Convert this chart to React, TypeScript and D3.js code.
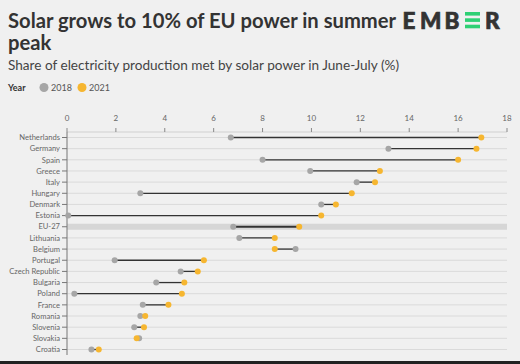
import React from 'react';
import * as d3 from 'd3';

const countries = ['Netherlands', 'Germany', 'Spain', 'Greece', 'Italy', 'Hungary', 'Denmark', 'Estonia', 'EU-27', 'Lithuania', 'Belgium', 'Portugal', 'Czech Republic', 'Bulgaria', 'Poland', 'France', 'Romania', 'Slovenia', 'Slovakia', 'Croatia'];
const share2018 = [6.7, 13.15, 8.0, 9.95, 11.85, 3.0, 10.4, 0.05, 6.8, 7.05, 9.35, 1.95, 4.65, 3.65, 0.3, 3.1, 3.0, 2.75, 2.95, 1.0];
const share2021 = [16.95, 16.75, 16.0, 12.8, 12.6, 11.65, 11.0, 10.4, 9.5, 8.5, 8.5, 5.6, 5.35, 4.8, 4.7, 4.15, 3.2, 3.15, 2.85, 1.3];
const xTicks = [0, 2, 4, 6, 8, 10, 12, 14, 16, 18];

const W = 520;
const H = 364;
const FONT = 'Lato, sans-serif';
const GREY = '#a6a6a6';
const ORANGE = '#f6b630';

export default function App() {
  const x = d3.scaleLinear().domain([0, 18]).range([67, 507]);
  const y = d3.scalePoint<string>().domain(countries).range([137.5, 349.5]);

  return (
    <svg width={W} height={H} style={{position: 'absolute', left: 0, top: 0, fontFamily: FONT}}>
      <rect width={W} height={H} fill="#f0f0f0"/>
      {/* header */}
      <text x={8} y={28} fontSize={20.2} fontWeight={700} fill="#333">Solar grows to 10% of EU power in summer</text>
      <text x={8} y={50} fontSize={20.2} fontWeight={700} fill="#333">peak</text>
      <text x={8} y={70} fontSize={13.6} fill="#444">Share of electricity production met by solar power in June-July (%)</text>
      <g fontSize={9}>
        <text x={8} y={91} fontWeight={700} fill="#333">Year</text>
        <circle cx={44} cy={87.5} r={4.5} fill={GREY}/>
        <text x={51} y={91} fill="#555">2018</text>
        <circle cx={82} cy={87.5} r={4.5} fill={ORANGE}/>
        <text x={89} y={91} fill="#555">2021</text>
      </g>
      {/* logo */}
      <g fontSize={22.5} fontWeight={900} fill="#333" stroke="#333" strokeWidth={0.7}>
        <text x={402.5} y={28.5}>E</text>
        <text x={420} y={28.5}>M</text>
        <text x={444.5} y={28.5}>B</text>
        <text x={485} y={28.5}>R</text>
      </g>
      <rect x={465} y={12} width={15} height={3.6} fill="#2ed074"/>
      <rect x={465} y={18.3} width={15} height={3.6} fill="#2ed074"/>
      <rect x={465} y={24.7} width={15} height={3.6} fill="#2ed074"/>
      {/* EU band */}
      <rect x={x(0)} y={y('EU-27')! - 3} width={x(18) - x(0)} height={6} fill="#d6d6d6"/>
      {/* grid */}
      {countries.map(c => c === 'EU-27' ? null : (
        <line key={c} x1={x(0)} x2={x(18)} y1={y(c)} y2={y(c)} stroke="#dadada" strokeWidth={1}/>
      ))}
      {/* top axis */}
      <line x1={x(0)} x2={x(18)} y1={132} y2={132} stroke="#d0d0d0"/>
      {xTicks.map(t => (
        <g key={t}>
          <line x1={x(t)} x2={x(t)} y1={128} y2={132} stroke="#888"/>
          <text x={x(t)} y={121} fontSize={8} fill="#666" textAnchor="middle">{t}</text>
        </g>
      ))}
      {/* left axis */}
      <line x1={x(0)} x2={x(0)} y1={132} y2={355} stroke="#777"/>
      {countries.map(c => (
        <g key={c}>
          <line x1={62} x2={x(0)} y1={y(c)} y2={y(c)} stroke="#777"/>
          <text x={60} y={y(c)! + 2.7} fontSize={7.6} fill="#666" textAnchor="end">{c}</text>
        </g>
      ))}
      {/* dumbbells */}
      {countries.map((c, i) => (
        <g key={c}>
          <line x1={x(share2018[i])} x2={x(share2021[i])} y1={y(c)} y2={y(c)} stroke="#333" strokeWidth={c === 'EU-27' ? 2 : 1.3}/>
          <circle cx={x(share2018[i])} cy={y(c)} r={3} fill={GREY}/>
          <circle cx={x(share2021[i])} cy={y(c)} r={3} fill={ORANGE}/>
        </g>
      ))}
      <rect x={0} y={361} width={W} height={3} fill="#222"/>
    </svg>
  );
}
